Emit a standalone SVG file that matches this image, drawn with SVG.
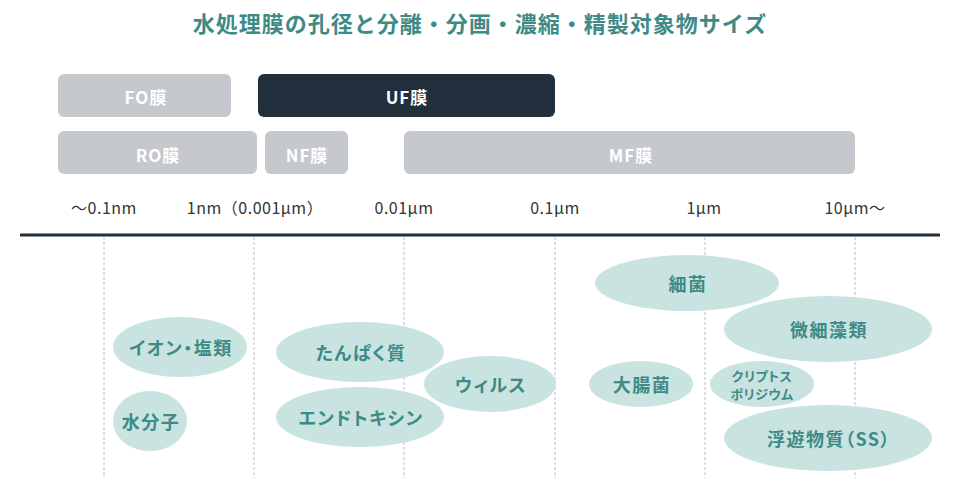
<svg xmlns="http://www.w3.org/2000/svg" width="960" height="478" viewBox="0 0 960 478">
<style>
text{font-family:"Noto Sans CJK JP","Noto Sans",sans-serif;font-weight:700;text-anchor:middle;dominant-baseline:central}
.title{fill:#3e8a86;font-size:22px;letter-spacing:1px}
.bar{fill:#c5c8cc}
.bar-dark{fill:#22303d}
.bt{fill:#fff;font-size:17px;letter-spacing:1px}
.scale{fill:#333;font-size:16px;font-weight:400;letter-spacing:0.5px}
.grid{stroke:#bbbec2;stroke-width:1;stroke-dasharray:3 2}
.ell{fill:#c9e3e0}
.et{fill:#3e8a86;font-size:18px;letter-spacing:1.5px;font-feature-settings:"palt"}
.es{fill:#3e8a86;font-size:13px;letter-spacing:0.5px;font-feature-settings:"palt"}
</style>
<rect width="960" height="478" fill="#fff"/>
<text class="title" x="480" y="22">水処理膜の孔径と分離・分画・濃縮・精製対象物サイズ</text>

<g id="fo"><rect class="bar" x="58" y="74" width="173" height="43" rx="6"/><text class="bt" x="146" y="96">FO膜</text></g>
<g id="uf"><rect class="bar-dark" x="258" y="74" width="297" height="43" rx="6"/><text class="bt" x="407" y="96">UF膜</text></g>
<g id="ro"><rect class="bar" x="58" y="131" width="199" height="43" rx="6"/><text class="bt" x="158" y="154">RO膜</text></g>
<g id="nf"><rect class="bar" x="265" y="131" width="83" height="43" rx="6"/><text class="bt" x="307" y="154">NF膜</text></g>
<g id="mf"><rect class="bar" x="404" y="131" width="451" height="43" rx="6"/><text class="bt" x="631" y="154">MF膜</text></g>

<g id="scale">
<text class="scale" x="104" y="207">～0.1nm</text>
<text class="scale" x="255" y="207">1nm（0.001μm）</text>
<text class="scale" x="404" y="207">0.01μm</text>
<text class="scale" x="555" y="207">0.1μm</text>
<text class="scale" x="704" y="207">1μm</text>
<text class="scale" x="855" y="207">10μm～</text>
</g>

<g id="connectors">
<line x1="20" y1="235" x2="940" y2="235" stroke="#22303d" stroke-width="3"/>
<line class="grid" x1="104" y1="237" x2="104" y2="478"/>
<line class="grid" x1="254" y1="237" x2="254" y2="478"/>
<line class="grid" x1="404" y1="237" x2="404" y2="478"/>
<line class="grid" x1="555" y1="237" x2="555" y2="478"/>
<line class="grid" x1="705" y1="237" x2="705" y2="478"/>
<line class="grid" x1="855" y1="237" x2="855" y2="478"/>
</g>

<g id="ion"><ellipse class="ell" cx="180" cy="347" rx="67" ry="30"/><text class="et" x="181" y="347">イオン・塩類</text></g>
<g id="water"><ellipse class="ell" cx="150" cy="421" rx="37" ry="30"/><text class="et" x="151" y="421">水分子</text></g>
<g id="protein"><ellipse class="ell" cx="360" cy="352" rx="84" ry="30"/><text class="et" x="361" y="352">たんぱく質</text></g>
<g id="endotoxin"><ellipse class="ell" cx="360" cy="417" rx="84" ry="30"/><text class="et" x="361" y="417">エンドトキシン</text></g>
<g id="virus"><ellipse class="ell" cx="490" cy="384" rx="66" ry="28"/><text class="et" x="491" y="384">ウィルス</text></g>
<g id="bacteria"><ellipse class="ell" cx="687" cy="283" rx="92" ry="28"/><text class="et" x="688" y="283">細菌</text></g>
<g id="algae"><ellipse class="ell" cx="828" cy="329" rx="104" ry="33"/><text class="et" x="829" y="329">微細藻類</text></g>
<g id="ecoli"><ellipse class="ell" cx="641" cy="384" rx="52" ry="23"/><text class="et" x="642" y="384">大腸菌</text></g>
<g id="crypto"><ellipse class="ell" cx="762" cy="384" rx="52" ry="23"/><text class="es" x="762" y="375">クリプトス</text><text class="es" x="762" y="393">ポリジウム</text></g>
<g id="ss"><ellipse class="ell" cx="828" cy="438" rx="104" ry="33"/><text class="et" x="829" y="438">浮遊物質（SS）</text></g>
</svg>
